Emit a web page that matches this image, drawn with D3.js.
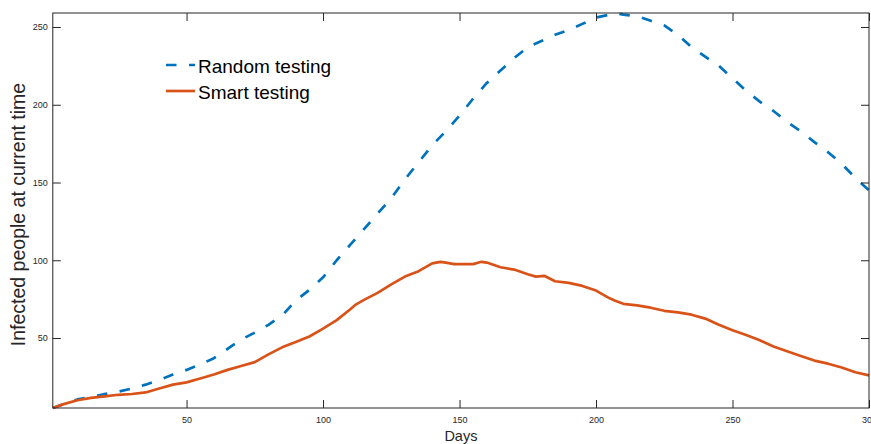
<!DOCTYPE html>
<html>
<head>
<meta charset="utf-8">
<script src="https://cdn.jsdelivr.net/npm/d3@7"></script>
<style>
  html, body { margin: 0; padding: 0; background: #fff; }
  svg { display: block; }
  text { font-family: "Liberation Sans", Arial, Helvetica, sans-serif; }
</style>
</head>
<body>
<svg id="chart" width="871" height="444"></svg>
<script>
// ---- Data ----
const randomDays = [1, 5, 10, 15, 20, 25, 30, 35, 40, 45, 50, 55, 60, 65, 70, 75, 80, 85, 90, 95,
  100, 105, 110, 115, 120, 125, 130, 135, 140, 145, 150, 155, 160, 165, 170, 175, 180, 185, 190, 195,
  200, 205, 207, 210, 215, 220, 225, 230, 235, 240, 245, 250, 255, 260, 265, 270, 275, 280, 285, 290, 295, 300];
const randomValues = [5, 7.5, 10.5, 12, 14, 15.5, 17.5, 20, 23, 26.5, 29.5, 33, 37, 43, 49, 53.5, 58.5, 64.5, 74, 81,
  89, 100, 110, 120, 130, 140, 152, 163, 174, 183, 193, 204, 214, 222, 230, 237, 241, 245, 248, 252,
  256, 258, 259, 258, 257, 254, 251, 245, 237, 231, 225, 217, 209, 202, 196, 189, 183, 176, 169.5, 162, 153, 145];

const smartDays = [1, 5, 10, 15, 20, 25, 30, 35, 40, 45, 50, 55, 60, 65, 70, 75, 80, 85, 90, 95,
  100, 105, 110, 112, 115, 120, 125, 130, 135, 140, 143, 145, 148, 150, 155, 158, 160, 165, 170, 175,
  178, 181, 185, 190, 195, 200, 205, 207, 210, 215, 220, 225, 230, 235, 240, 245, 250, 255, 260, 265,
  270, 275, 280, 285, 290, 295, 300];
const smartValues = [5, 7.5, 10, 11.5, 12.5, 13.5, 14, 15, 17.5, 20, 21.5, 24, 26.5, 29.5, 32, 34.5, 39.5, 44, 47.5, 51,
  56, 61.5, 68.5, 71.5, 74.5, 79, 84.5, 89.5, 93, 98, 99, 98.5, 97.5, 97.5, 97.5, 99, 98.5, 95.5, 94, 91,
  89.5, 90, 86.5, 85.5, 83.5, 80.5, 75.5, 74, 72, 71, 69.5, 67.5, 66.5, 65, 62.5, 58.5, 55, 52, 48.5, 44.5,
  41.5, 38.5, 35.5, 33.5, 31, 28, 26];

const xTicks = [50, 100, 150, 200, 250, 300];
const yTicks = [50, 100, 150, 200, 250];
const seriesNames = ["Random testing", "Smart testing"];
const seriesColors = ["#0072BD", "#D95319"];
const xLabel = "Days";
const yLabel = "Infected people at current time";

// ---- Layout ----
const svg = d3.select("#chart");
const padL = 52.8, padR = 869, padT = 13, padB = 408;
const axisColor = "#262626";

const allVals = randomValues.concat(smartValues);
const x = d3.scaleLinear().domain([1, 300]).range([padL, padR]);
const y = d3.scaleLinear().domain(d3.extent(allVals)).range([padB, padT]);

const series = [
  { name: seriesNames[0], color: seriesColors[0], dash: "10.5,12.5",
    pts: randomDays.map((d, i) => [d, randomValues[i]]) },
  { name: seriesNames[1], color: seriesColors[1], dash: null,
    pts: smartDays.map((d, i) => [d, smartValues[i]]) }
];

const line = d3.line().x(d => x(d[0])).y(d => y(d[1]));

series.forEach(s => {
  svg.append("path")
    .datum(s.pts)
    .attr("fill", "none")
    .attr("stroke", s.color)
    .attr("stroke-width", 2.7)
    .attr("stroke-linejoin", "round")
    .attr("stroke-dasharray", s.dash)
    .attr("d", line);
});

// Box
svg.append("rect")
  .attr("x", padL).attr("y", padT)
  .attr("width", padR - padL).attr("height", padB - padT)
  .attr("fill", "none").attr("stroke", axisColor).attr("stroke-width", 1);

// Axes with inward ticks
const gx = svg.append("g").attr("transform", `translate(0,${padB})`)
  .call(d3.axisBottom(x).tickValues(xTicks).tickSizeInner(-8).tickSizeOuter(0).tickPadding(9));
const gxt = svg.append("g").attr("transform", `translate(0,${padT})`)
  .call(d3.axisTop(x).tickValues(xTicks).tickSizeInner(-8).tickSizeOuter(0).tickFormat(""));
const gy = svg.append("g").attr("transform", `translate(${padL},0)`)
  .call(d3.axisLeft(y).tickValues(yTicks).tickSizeInner(-8).tickSizeOuter(0).tickPadding(5));
const gyr = svg.append("g").attr("transform", `translate(${padR},0)`)
  .call(d3.axisRight(y).tickValues(yTicks).tickSizeInner(-8).tickSizeOuter(0).tickFormat(""));

[gx, gxt, gy, gyr].forEach(g => {
  g.select(".domain").remove();
  g.selectAll(".tick line").attr("stroke", axisColor);
  g.selectAll(".tick text")
    .attr("fill", axisColor)
    .style("font-size", "9px")
    .style("font-family", "'Liberation Sans', Arial, sans-serif");
});

// Axis labels
svg.append("text")
  .attr("x", (padL + padR) / 2).attr("y", 441)
  .attr("text-anchor", "middle")
  .attr("fill", axisColor)
  .style("font-size", "14.5px")
  .text(xLabel);

svg.append("text")
  .attr("transform", `translate(25,${(padT + padB) / 2 + 4}) rotate(-90)`)
  .attr("text-anchor", "middle")
  .attr("fill", axisColor)
  .style("font-size", "19.5px")
  .text(yLabel);

// Legend
const legX0 = 166, legX1 = 195, legTextX = 198;
const legY = [65, 91];
series.forEach((s, i) => {
  svg.append("line")
    .attr("x1", legX0).attr("x2", legX1)
    .attr("y1", legY[i]).attr("y2", legY[i])
    .attr("stroke", s.color).attr("stroke-width", 2.7)
    .attr("stroke-dasharray", s.dash);
  svg.append("text")
    .attr("x", legTextX).attr("y", legY[i] + 7.5)
    .attr("fill", "#000")
    .style("font-size", "19px")
    .text(s.name);
});
</script>
</body>
</html>
